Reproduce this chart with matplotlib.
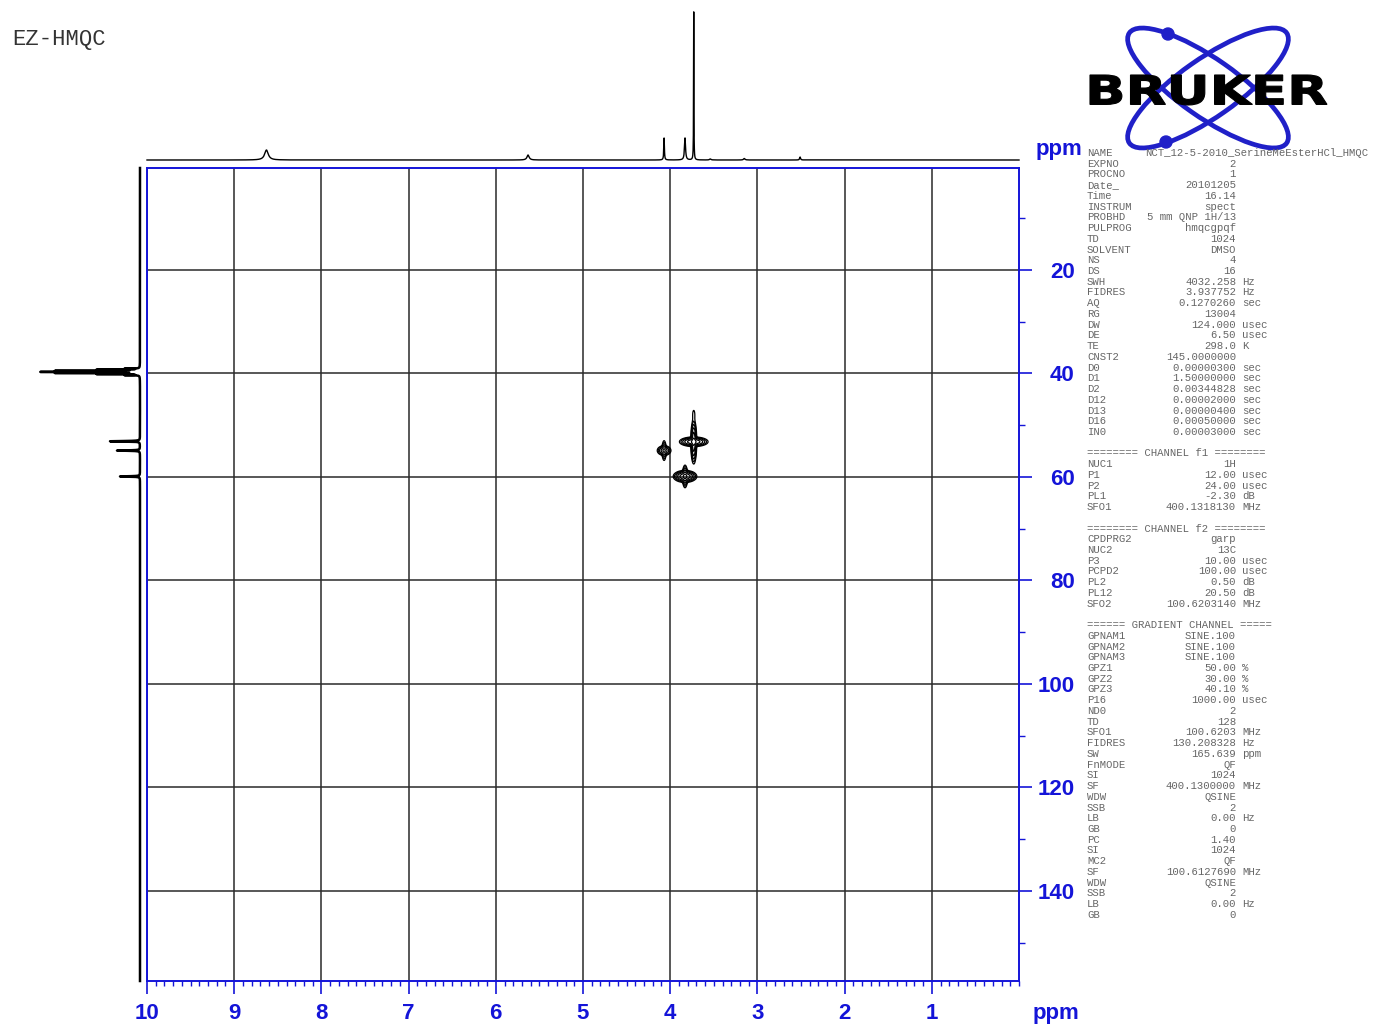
import numpy as np
import matplotlib
matplotlib.use("Agg")
import matplotlib.pyplot as plt
from matplotlib.patches import Ellipse, Circle, PathPatch
from matplotlib.textpath import TextPath
from matplotlib.font_manager import FontProperties
from matplotlib.transforms import Affine2D
from matplotlib.ticker import MultipleLocator

W, H = 1373, 1026
BLUE = "#1414d8"

# 1H projection (top trace): shift (ppm), height, half width (ppm)
h_shift = [8.63, 5.63, 4.07, 3.83, 3.73, 3.54, 3.15, 2.51]
h_height = [10, 5, 22, 22, 148, 1, 1.5, 3]
h_width = [0.025, 0.015, 0.004, 0.007, 0.002, 0.01, 0.01, 0.006]

# 13C projection (left trace): DMSO septet + three carbons
c_shift = [39.07, 39.28, 39.49, 39.70, 39.91, 40.12, 40.33, 53.1, 54.9, 59.9]
c_height = [14, 41, 82, 96, 82, 41, 14, 30, 23, 20]
c_width = [0.03, 0.03, 0.03, 0.03, 0.03, 0.03, 0.03, 0.05, 0.05, 0.05]

# HMQC cross peak components: 1H shift, 13C shift, amplitude, sigma 1H, sigma 13C
pk_h = [3.73, 3.73, 4.07, 4.07, 3.83, 3.83, 3.73]
pk_c = [53.2, 53.2, 54.9, 54.9, 59.9, 59.9, 47.9]
pk_amp = [0.6, 0.6, 0.25, 0.15, 0.6, 0.3, 0.03]
pk_sh = [0.063, 0.0134, 0.035, 0.012, 0.052, 0.013, 0.012]
pk_sc = [0.36, 1.65, 0.42, 0.95, 0.45, 0.94, 0.8]
levels = [0.02, 0.04, 0.08, 0.16, 0.32, 0.64]

x_ticks = [1, 2, 3, 4, 5, 6, 7, 8, 9, 10]
y_ticks = [20, 40, 60, 80, 100, 120, 140]

params = [
    ("NAME", "", ""), ("EXPNO", "2", ""), ("PROCNO", "1", ""),
    ("Date_", "20101205", ""), ("Time", "16.14", ""), ("INSTRUM", "spect", ""),
    ("PROBHD", "5 mm QNP 1H/13", ""), ("PULPROG", "hmqcgpqf", ""), ("TD", "1024", ""),
    ("SOLVENT", "DMSO", ""), ("NS", "4", ""), ("DS", "16", ""),
    ("SWH", "4032.258", "Hz"), ("FIDRES", "3.937752", "Hz"), ("AQ", "0.1270260", "sec"),
    ("RG", "13004", ""), ("DW", "124.000", "usec"), ("DE", "6.50", "usec"),
    ("TE", "298.0", "K"), ("CNST2", "145.0000000", ""), ("D0", "0.00000300", "sec"),
    ("D1", "1.50000000", "sec"), ("D2", "0.00344828", "sec"), ("D12", "0.00002000", "sec"),
    ("D13", "0.00000400", "sec"), ("D16", "0.00050000", "sec"), ("IN0", "0.00003000", "sec"),
    None, ("======== CHANNEL f1 ========", None, None),
    ("NUC1", "1H", ""), ("P1", "12.00", "usec"), ("P2", "24.00", "usec"),
    ("PL1", "-2.30", "dB"), ("SFO1", "400.1318130", "MHz"),
    None, ("======== CHANNEL f2 ========", None, None),
    ("CPDPRG2", "garp", ""), ("NUC2", "13C", ""), ("P3", "10.00", "usec"),
    ("PCPD2", "100.00", "usec"), ("PL2", "0.50", "dB"), ("PL12", "20.50", "dB"),
    ("SFO2", "100.6203140", "MHz"),
    None, ("====== GRADIENT CHANNEL =====", None, None),
    ("GPNAM1", "SINE.100", ""), ("GPNAM2", "SINE.100", ""), ("GPNAM3", "SINE.100", ""),
    ("GPZ1", "50.00", "%"), ("GPZ2", "30.00", "%"), ("GPZ3", "40.10", "%"),
    ("P16", "1000.00", "usec"), ("ND0", "2", ""), ("TD", "128", ""),
    ("SFO1", "100.6203", "MHz"), ("FIDRES", "130.208328", "Hz"), ("SW", "165.639", "ppm"),
    ("FnMODE", "QF", ""), ("SI", "1024", ""), ("SF", "400.1300000", "MHz"),
    ("WDW", "QSINE", ""), ("SSB", "2", ""), ("LB", "0.00", "Hz"),
    ("GB", "0", ""), ("PC", "1.40", ""), ("SI", "1024", ""),
    ("MC2", "QF", ""), ("SF", "100.6127690", "MHz"), ("WDW", "QSINE", ""),
    ("SSB", "2", ""), ("LB", "0.00", "Hz"), ("GB", "0", ""),
]
name_value = "NCT_12-5-2010_SerineMeEsterHCl_HMQC"


def box(x0, y0, x1, y1):
    return [x0 / W, 1 - y1 / H, (x1 - x0) / W, (y1 - y0) / H]


def lorentz(x, c, w):
    return 1.0 / (1.0 + ((x - c) / w) ** 2)


fig = plt.figure(figsize=(W / 100, H / 100), dpi=100)

# ---- main 2D plot
ax = fig.add_axes(box(147, 168, 1019, 981))
ax.set_xlim(10, 0)
ax.set_ylim(157.4, 0.3)

gx = np.linspace(3.2, 4.6, 800)
gy = np.linspace(42, 68, 800)
X, Y = np.meshgrid(gx, gy)
Z = np.zeros_like(X)
for h, c, a, sh, sc in zip(pk_h, pk_c, pk_amp, pk_sh, pk_sc):
    Z += a * np.exp(-0.5 * ((X - h) / sh) ** 2 - 0.5 * ((Y - c) / sc) ** 2)
ax.contour(X, Y, Z, levels=levels, colors="black", linewidths=0.9)

ax.set_xticks(x_ticks)
ax.xaxis.set_minor_locator(MultipleLocator(0.1))
ax.set_yticks(y_ticks)
ax.yaxis.set_minor_locator(MultipleLocator(10))
ax.yaxis.tick_right()
ax.grid(True, which="major", color="#2a2a2a", linewidth=1.1)
for s in ax.spines.values():
    s.set_color(BLUE)
    s.set_linewidth(1.4)
ax.tick_params(axis="x", which="major", direction="out", length=9, width=1.2,
               color=BLUE, pad=7)
ax.tick_params(axis="x", which="minor", direction="out", length=3.5, width=1.0, color=BLUE)
ax.tick_params(axis="y", which="major", direction="out", length=9, width=1.2,
               color=BLUE, pad=31)
ax.tick_params(axis="y", which="minor", direction="out", length=4, width=1.0, color=BLUE)
for lab in ax.get_xticklabels() + ax.get_yticklabels():
    lab.set_fontfamily("Liberation Sans")
    lab.set_fontweight("bold")
    lab.set_fontsize(16)
    lab.set_color(BLUE)
for lab in ax.get_yticklabels():
    lab.set_horizontalalignment("right")

fig.text(1059 / W, 1 - 150 / H, "ppm", ha="center", va="center", color=BLUE,
         fontsize=16, fontweight="bold", family="Liberation Sans")
fig.text(1056 / W, 1 - 1013 / H, "ppm", ha="center", va="center", color=BLUE,
         fontsize=16, fontweight="bold", family="Liberation Sans")

# ---- top 1H projection
axt = fig.add_axes(box(147, 10, 1019, 160))
hx = np.linspace(0, 10, 20001)
hy = np.zeros_like(hx)
for c, a, w in zip(h_shift, h_height, h_width):
    hy += a * lorentz(hx, c, w)
axt.plot(hx, hy, color="black", lw=1.0, clip_on=False)
axt.set_xlim(10, 0)
axt.set_ylim(0, 150)
axt.axis("off")

# ---- left 13C projection
axl = fig.add_axes(box(30, 168, 140, 981))
cy = np.linspace(0.3, 157.4, 40001)
cx = np.zeros_like(cy)
for c, a, w in zip(c_shift, c_height, c_width):
    cx += a * lorentz(cy, c, w)
axl.plot(cx, cy, color="black", lw=1.8, clip_on=False)
axl.set_xlim(110, 0)
axl.set_ylim(157.4, 0.3)
axl.axis("off")

# ---- title
fig.text(12 / W, 1 - 40 / H, "EZ-HMQC", ha="left", va="center", fontsize=16,
         family="Liberation Mono", color="#333333")

# ---- parameter listing
row_h = 10.73
pfont = dict(fontsize=7.7, family="Liberation Mono", color="#666666", va="center")
for i, row in enumerate(params):
    if row is None:
        continue
    y = 1 - (153 + i * row_h) / H
    label, val, unit = row
    fig.text(1087 / W, y, label, ha="left", **pfont)
    if val is None:
        continue
    if label == "NAME":
        fig.text(1145 / W, y, name_value, ha="left", **pfont)
        continue
    fig.text(1236 / W, y, val, ha="right", **pfont)
    if unit:
        fig.text(1242 / W, y, unit, ha="left", **pfont)

# ---- logo
axg = fig.add_axes(box(1085, 20, 1335, 155))
axg.set_xlim(1085, 1335)
axg.set_ylim(155, 20)
axg.axis("off")
for ang in (35, -35):
    axg.add_patch(Ellipse((1208, 88), 192, 58, angle=ang, fill=False,
                          ec="#2020c8", lw=3.4))
axg.add_patch(Circle((1168, 34), 6, color="#2020c8"))
axg.add_patch(Circle((1166, 142), 6, color="#2020c8"))
tp = TextPath((0, 0), "BRUKER", size=1, prop=FontProperties(family="DejaVu Sans", weight="bold"))
ext = tp.get_extents()
tr = Affine2D().translate(-ext.x0, -ext.y0).scale(237 / ext.width, -30 / ext.height).translate(1090, 105)
axg.add_patch(PathPatch(tr.transform_path(tp), fc="black", ec="black", lw=0.8))

fig.savefig("out.png", dpi=100)
